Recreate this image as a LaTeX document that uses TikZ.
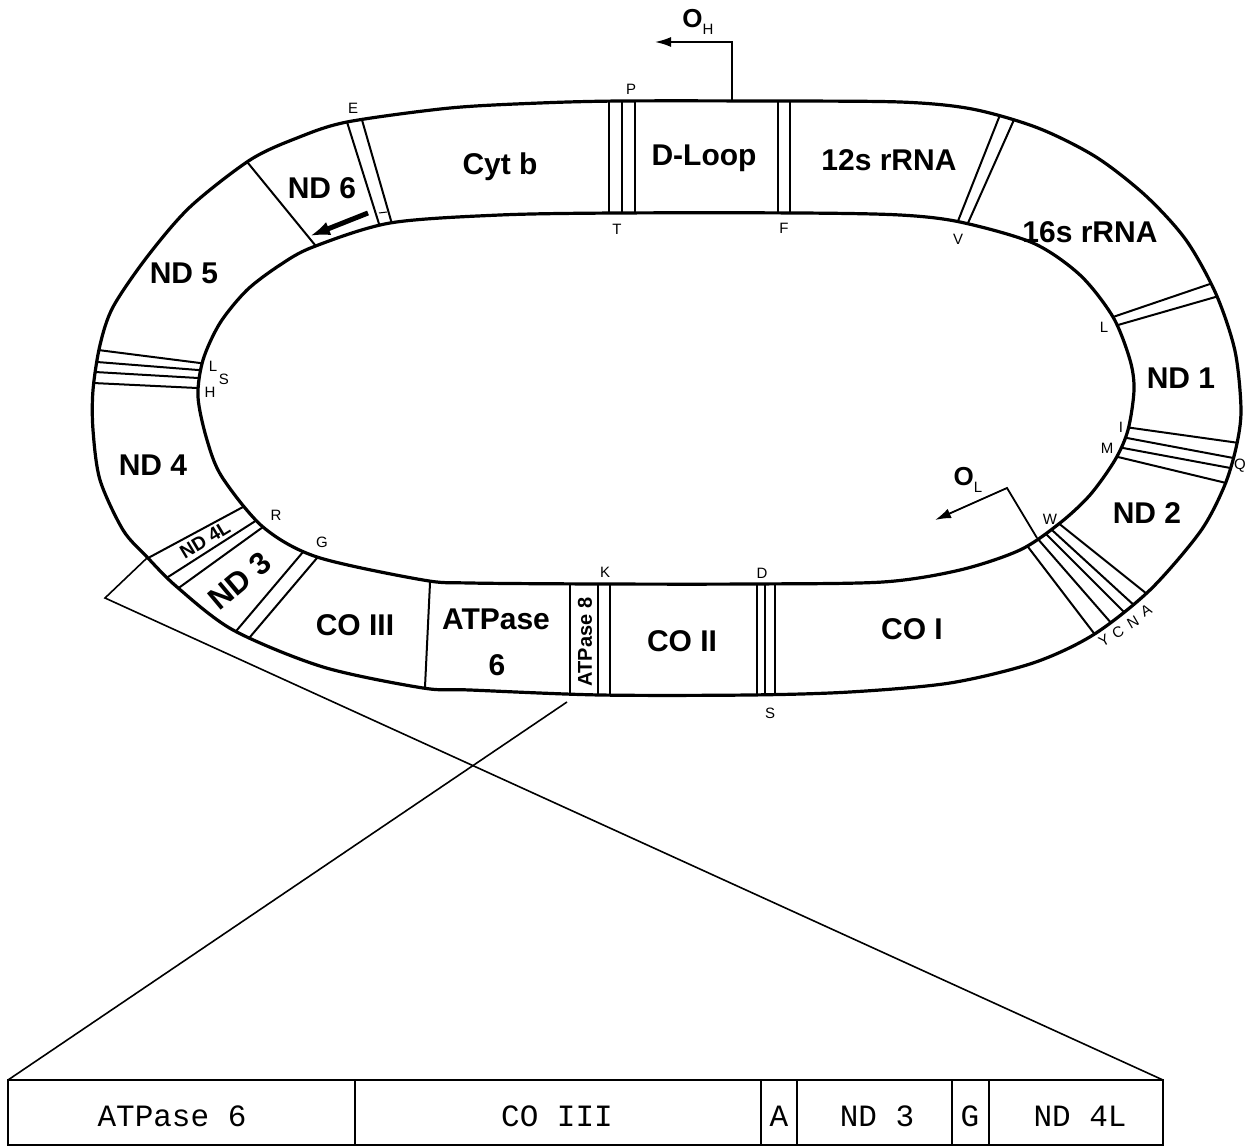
\documentclass[tikz,border=0pt]{standalone}
\usepackage{fontspec}
\setmainfont{Liberation Sans}
\newfontfamily\monof{Liberation Mono}
\usetikzlibrary{arrows.meta}
\begin{document}
\begin{tikzpicture}[x=1pt,y=-1pt,
  ring/.style={line width=3.2pt},
  divline/.style={line width=2pt, shorten <=-12pt, shorten >=-12pt},
  cone/.style={line width=1.6pt},
  big/.style={font=\bfseries\fontsize{30}{32}\selectfont, inner sep=0pt},
  sml/.style={font=\fontsize{15}{16}\selectfont, inner sep=0pt},
  mono/.style={font=\monof\fontsize{31}{33}\selectfont, inner sep=0pt},
  orig/.style={line width=1.8pt, -{Latex[length=16pt,width=10pt]}}]
\useasboundingbox (0,0) rectangle (1254,1147);

% dividers clipped to the outer ring
\begin{scope}
\clip plot[smooth cycle] coordinates {(540,103) (620,101) (760,101) (900,102) (972,109) (1038,128) (1096,157) (1146,196) (1186,240) (1216,294) (1235,351) (1241,410) (1236,448) (1224,487) (1200,532) (1150,590) (1093,635) (1033,663) (950,683) (850,692) (750,695) (600,695) (470,690) (423,688) (323,667) (233,630) (177,587) (147,557) (123,530) (100,480) (93,430) (93,390) (100,345) (113,307) (147,257) (190,207) (250,160) (297,138) (347,122) (450,108)};
% ND5/ND6
\draw[divline] (248,163) -- (315,245);
% E
\draw[divline] (347,122) -- (380,227);
\draw[divline] (362,120) -- (392,224);
% T / P
\draw[divline] (609,102) -- (609,213);
\draw[divline] (622,102) -- (622,213);
\draw[divline] (635,102) -- (635,213);
% F
\draw[divline] (778,102) -- (778,213);
\draw[divline] (790,102) -- (790,213);
% V
\draw[divline] (998,120) -- (958,221);
\draw[divline] (1013,122) -- (968,223);
% L (16s / ND1)
\draw[divline] (1207,285) -- (1113,317);
\draw[divline] (1212,298) -- (1118,325);
% I M Q
\draw[divline] (1132,428) -- (1232,442);
\draw[divline] (1127,438) -- (1228,457);
\draw[divline] (1123,448) -- (1225,467);
\draw[divline] (1118,457) -- (1222,482);
% W A N C Y
\draw[divline] (1025,543) -- (1093,632);
\draw[divline] (1037,538) -- (1112,624);
\draw[divline] (1046,534) -- (1127,615);
\draw[divline] (1053,531) -- (1136,607);
\draw[divline] (1062,526) -- (1147,594);
% D / S
\draw[divline] (757,584) -- (757,695);
\draw[divline] (765,584) -- (765,695);
\draw[divline] (775,584) -- (775,695);
% ATPase 8 / K
\draw[divline] (570,584) -- (570,695);
\draw[divline] (598,584) -- (598,695);
\draw[divline] (610,584) -- (610,695);
% ATPase 6 / CO III
\draw[divline] (430,583) -- (425,687);
% G
\draw[divline] (303,552) -- (237,630);
\draw[divline] (317,558) -- (250,637);
% ND4L / R
\draw[divline] (243,507) -- (150,557);
\draw[divline] (257,520) -- (168,577);
\draw[divline] (263,527) -- (180,587);
% L S H
\draw[divline] (200,363) -- (98,350);
\draw[divline] (198,370) -- (97,362);
\draw[divline] (198,378) -- (95,372);
\draw[divline] (197,388) -- (93,383);
\end{scope}

% inner and outer boundaries
\filldraw[ring, fill=white] plot[smooth cycle] coordinates {(500,215) (617,213) (800,213) (900,215) (960,222) (1033,243) (1080,275) (1113,317) (1130,360) (1134,390) (1128,430) (1115,460) (1090,495) (1060,523) (1020,550) (960,570) (883,582) (750,584) (600,584) (470,583) (423,580) (317,557) (263,527) (222,477) (207,440) (198,397) (203,360) (220,323) (247,290) (280,265) (313,247) (390,223)};
\draw[ring] plot[smooth cycle] coordinates {(540,103) (620,101) (760,101) (900,102) (972,109) (1038,128) (1096,157) (1146,196) (1186,240) (1216,294) (1235,351) (1241,410) (1236,448) (1224,487) (1200,532) (1150,590) (1093,635) (1033,663) (950,683) (850,692) (750,695) (600,695) (470,690) (423,688) (323,667) (233,630) (177,587) (147,557) (123,530) (100,480) (93,430) (93,390) (100,345) (113,307) (147,257) (190,207) (250,160) (297,138) (347,122) (450,108)};

% small tick in E band and ND6 direction arrow
\draw[line width=1pt] (379,213) -- (387,212);
\draw[line width=5pt, -{Latex[length=20pt,width=14pt]}] (368,213) -- (310,236);

% origins
\coordinate (ohbase) at (732,102);
\coordinate (ohtip) at (655,42);
\draw[orig] (ohbase) -- (732,42) -- (ohtip);
\node[inner sep=0pt] (oh) at (698,22) {\bfseries\fontsize{26}{28}\selectfont O\raisebox{-0.45ex}{\fontsize{15}{15}\selectfont\mdseries H}};
\coordinate (olbase) at (1037,538);
\coordinate (oltip) at (935,520);
\draw[orig] (olbase) -- (1007,488) -- (oltip);
\node[inner sep=0pt] (ol) at (968,480) {\bfseries\fontsize{26}{28}\selectfont O\raisebox{-0.45ex}{\fontsize{15}{15}\selectfont\mdseries L}};

% gene labels
\node[big] (cytb) at (500,167) {Cyt b};
\node[big] (dloop) at (704,158) {D-Loop};
\node[big] (r12) at (889,160) {12s rRNA};
\node[big] (r16) at (1090,232) {16s rRNA};
\node[big] (nd1) at (1181,378) {ND 1};
\node[big] (nd2) at (1147,513) {ND 2};
\node[big] (co1) at (912,629) {CO I};
\node[big] (co2) at (682,641) {CO II};
\node[big] (atp6a) at (496,619) {ATPase};
\node[big] (atp6b) at (497,665) {6};
\node[big] (co3) at (355,625) {CO III};
\node[big] (nd4) at (153,465) {ND 4};
\node[big] (nd5) at (184,273) {ND 5};
\node[big] (nd6) at (322,188) {ND 6};
\node[big, rotate=40, font=\bfseries\fontsize{31}{33}\selectfont] (nd3) at (240,581) {ND 3};
\node[big, rotate=31, font=\bfseries\fontsize{19}{21}\selectfont] (nd4l) at (205,540) {ND 4L};
\node[big, rotate=90, font=\bfseries\fontsize{20}{22}\selectfont] (atp8) at (585,642) {ATPase 8};

% tRNA letters
\node[sml] (tE) at (353,108) {E};
\node[sml] (tP) at (631,89) {P};
\node[sml] (tT) at (617,229) {T};
\node[sml] (tF) at (784,228) {F};
\node[sml] (tV) at (958,239) {V};
\node[sml] (tL1) at (1104,327) {L};
\node[sml] (tI) at (1121,427) {I};
\node[sml] (tM) at (1107,448) {M};
\node[sml] (tQ) at (1240,466) {Q};
\node[sml] (tW) at (1050,519) {W};
\node[sml, rotate=30] (tY) at (1104,641) {Y};
\node[sml, rotate=30] (tC) at (1118,632) {C};
\node[sml, rotate=30] (tN) at (1133,622) {N};
\node[sml, rotate=30] (tA) at (1146,611) {A};
\node[sml] (tD) at (762,573) {D};
\node[sml] (tS1) at (770,713) {S};
\node[sml] (tK) at (605,572) {K};
\node[sml] (tG) at (322,542) {G};
\node[sml] (tR) at (276,515) {R};
\node[sml] (tL2) at (213,366) {L};
\node[sml] (tS2) at (224,379) {S};
\node[sml] (tH) at (210,392) {H};

% expansion cone
\coordinate (c1) at (147,558);
\coordinate (c2) at (105,598);
\coordinate (c3) at (567,702);
\coordinate (boxtl) at (8,1080);
\coordinate (boxtr) at (1163,1080);
\draw[cone] (c1) -- (c2) -- (boxtr);
\draw[cone] (c3) -- (boxtl);

% linear map
\draw[line width=2pt] (8,1080) rectangle (1163,1145);
\foreach \xx in {355,761,797,952,989}{\draw[line width=1.6pt] (\xx,1080) -- (\xx,1145);}
\node[mono] (b1) at (172,1116) {ATPase 6};
\node[mono] (b2) at (557,1116) {CO III};
\node[mono] (b3) at (779,1116) {A};
\node[mono] (b4) at (877,1116) {ND 3};
\node[mono] (b5) at (970,1116) {G};
\node[mono] (b6) at (1080,1116) {ND 4L};
\end{tikzpicture}
\end{document}
